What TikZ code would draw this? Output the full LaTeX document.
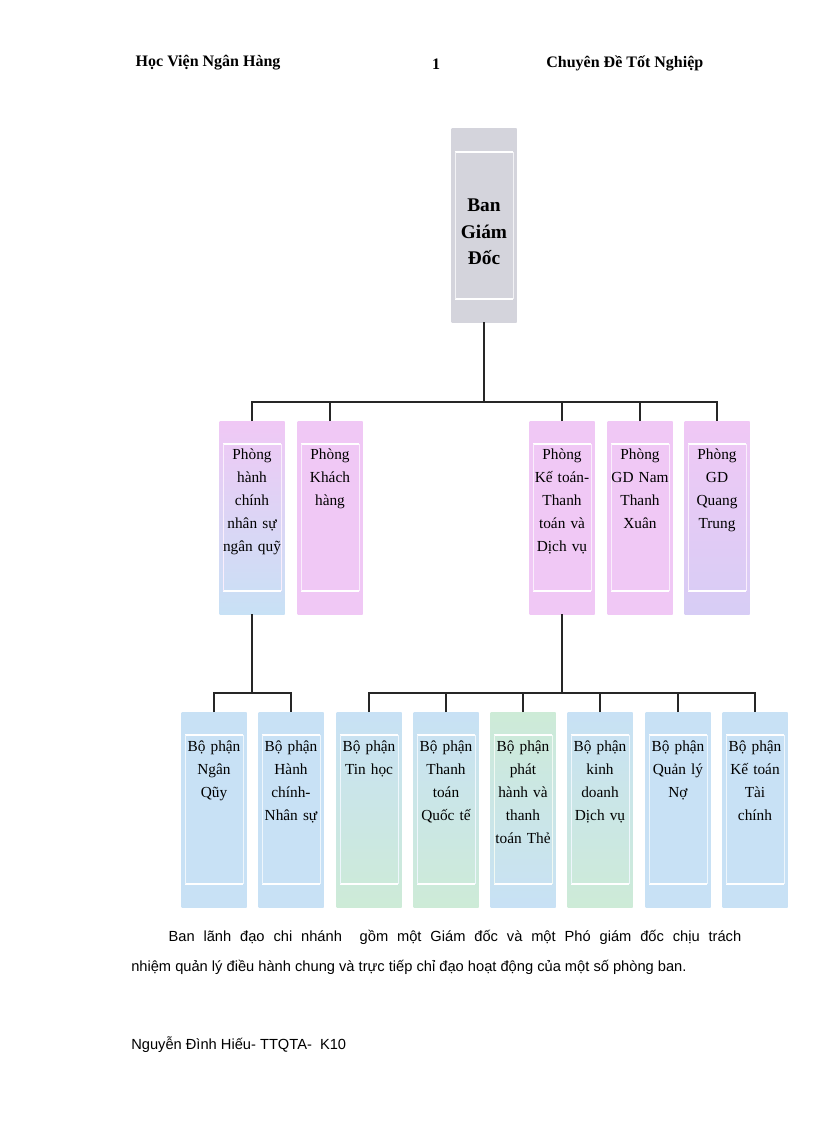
\documentclass[tikz,border=0pt]{standalone}
\usepackage{fontspec}
\setmainfont{Liberation Serif}
\newfontfamily\bodyfont{Liberation Sans}
\definecolor{cgray}{RGB}{212,212,220}
\definecolor{cpink}{RGB}{240,200,245}
\definecolor{cblue}{RGB}{200,225,245}
\definecolor{clav}{RGB}{215,205,245}
\definecolor{cgreen}{RGB}{205,235,215}
\begin{document}
\begin{tikzpicture}[x=0.75pt,y=-0.75pt,
 lbl/.style={align=center,text width=60pt,font=\fontsize{11.5}{17.3}\selectfont,anchor=north},
 ln/.style={line width=0.8pt,draw=black!85}]
\path[use as bounding box] (0,0) rectangle (816,1123);
\def\bx#1#2#3#4#5#6{% name, cx, top, bottom, top color, bottom color
 \shade[top color=#5,bottom color=#6] (#2-32.5,#3) rectangle (#2+32.5,#4);
 \draw[white,line width=0.8pt] (#2-29,#3+23) -- (#2+29,#3+23) (#2-29,#4-23) -- (#2+29,#4-23);
 \draw[white!70!#5,line width=0.5pt] (#2-29,#3+23) -- (#2-29,#4-23) (#2+29,#3+23) -- (#2+29,#4-23);
 \coordinate (#1t) at (#2,#3); \coordinate (#1b) at (#2,#4);}
% headers
\node[font=\fontsize{12}{14}\selectfont\bfseries,anchor=west] (h1) at (131,63) {Học Viện Ngân Hàng};
\node[font=\fontsize{12}{14}\selectfont\bfseries] (h2) at (436,64) {1};
\node[font=\fontsize{12}{14}\selectfont\bfseries,anchor=east] (h3) at (708,63) {Chuyên Đề Tốt Nghiệp};
% top
\bx{g}{484}{129}{322}{cgray}{cgray}
\node[align=center,font=\fontsize{14.5}{20}\selectfont\bfseries] (gt) at (484,232) {Ban\\Giám\\Đốc};
% mid
\bx{p1}{252}{421}{614}{cpink}{cblue}
\bx{p2}{330}{421}{614}{cpink}{cpink}
\bx{p3}{562}{421}{614}{cpink}{cpink}
\bx{p4}{640}{421}{614}{cpink}{cpink}
\bx{p5}{717}{421}{614}{cpink}{clav}
\node[lbl] (t1) at (252,444) {Phòng\\hành\\chính\\nhân sự\\ngân quỹ};
\node[lbl] (t2) at (330,444) {Phòng\\Khách\\hàng};
\node[lbl] (t3) at (562,444) {Phòng\\Kế toán-\\Thanh\\toán và\\Dịch vụ};
\node[lbl] (t4) at (640,444) {Phòng\\GD Nam\\Thanh\\Xuân};
\node[lbl] (t5) at (717,444) {Phòng\\GD\\Quang\\Trung};
% bottom
\bx{b1}{214}{712}{907}{cblue}{cblue}
\bx{b2}{291}{712}{907}{cblue}{cblue}
\bx{b3}{369}{712}{907}{cblue}{cgreen}
\bx{b4}{446}{712}{907}{cblue}{cgreen}
\bx{b5}{523}{712}{907}{cgreen}{cblue}
\bx{b6}{600}{712}{907}{cblue}{cgreen}
\bx{b7}{678}{712}{907}{cblue}{cblue}
\bx{b8}{755}{712}{907}{cblue}{cblue}
\node[lbl] (u1) at (214,736) {Bộ phận\\Ngân\\Qũy};
\node[lbl] (u2) at (291,736) {Bộ phận\\Hành\\chính-\\Nhân sự};
\node[lbl] (u3) at (369,736) {Bộ phận\\Tin học};
\node[lbl] (u4) at (446,736) {Bộ phận\\Thanh\\toán\\Quốc tế};
\node[lbl] (u5) at (523,736) {Bộ phận\\phát\\hành và\\thanh\\toán Thẻ};
\node[lbl] (u6) at (600,736) {Bộ phận\\kinh\\doanh\\Dịch vụ};
\node[lbl] (u7) at (678,736) {Bộ phận\\Quản lý\\Nợ};
\node[lbl] (u8) at (755,736) {Bộ phận\\Kế toán\\Tài\\chính};
% connectors
\draw[ln] (gb) -- ++(0,80);
\draw[ln] (p1t) -- ++(0,-19) -| (p5t);
\draw[ln] (p2t) -- ++(0,-19);
\draw[ln] (p3t) -- ++(0,-19);
\draw[ln] (p4t) -- ++(0,-19);
\draw[ln] (p1b) -- ++(0,79);
\draw[ln] (b1t) -- ++(0,-19) -| (b2t);
\draw[ln] (p3b) -- ++(0,79);
\draw[ln] (b3t) -- ++(0,-19) -| (b8t);
\foreach \n in {b4,b5,b6,b7} \draw[ln] (\n t) -- ++(0,-19);
% text
\node[anchor=north west,text width=457.5pt,align=justify,font=\bodyfont\fontsize{11}{22.5}\selectfont,inner sep=0pt] (body) at (131,930)
 {\hspace*{28pt}Ban lãnh đạo chi nhánh\ \ gồm một Giám đốc và một Phó giám đốc chịu trách\linebreak nhiệm quản lý điều hành chung và trực tiếp chỉ đạo hoạt động của một số phòng ban.};
\node[anchor=west,font=\bodyfont\fontsize{11}{13}\selectfont,inner sep=0pt] (foot) at (131,1045) {Nguyễn Đình Hiếu- TTQTA-\ \ K10};
\end{tikzpicture}
\end{document}
